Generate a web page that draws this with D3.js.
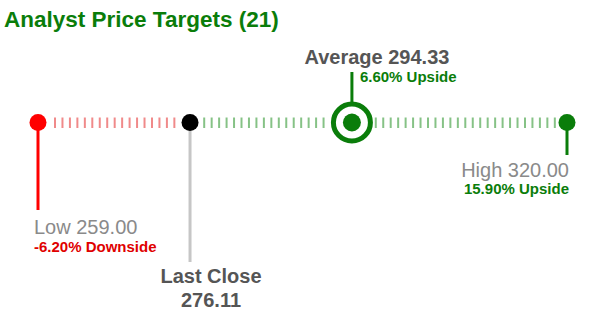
<!DOCTYPE html>
<html><head>
<meta charset="utf-8">
<script src="https://d3js.org/d3.v7.min.js"></script>
<style>
  body { margin: 0; background: #fff; }
  svg text { font-family: "Liberation Sans", Arial, sans-serif; }
</style>
</head>
<body>
<svg id="chart" width="589" height="317"></svg>
<script>

// values
const numTargets = 21;
const lowTarget = 259.00;
const lastClose = 276.11;
const avgTarget = 294.33;
const highTarget = 320.00;
const lowPct = "-6.20%";
const avgPct = "6.60%";
const highPct = "15.90%";

const green = "#0a7d0a";
const red = "#ff0000";
const darkGray = "#555555";
const lightGray = "#8a8a8a";

let svg = d3.select("svg#chart");
const width = +svg.attr("width");
const lineY = 122.5;

// scale from price to x; the high marker is pinned to the right edge
let x = d3.scaleLinear()
          .domain([lowTarget, highTarget])
          .range([38, 580]);

const lowX = x(lowTarget);
const closeX = x(lastClose);
const avgX = x(avgTarget);
const highX = Math.min(x(highTarget), width - 22);

// title
svg.append("text")
   .attr("x", 4)
   .attr("y", 27)
   .style("font-size", "22.5px")
   .style("font-weight", "bold")
   .style("fill", green)
   .text("Analyst Price Targets (" + numTargets + ")");

// dashed ticks along the line
let markers = [{x: lowX, r: 12}, {x: closeX, r: 12}, {x: avgX, r: 22}, {x: highX, r: 12}];
let tickXs = d3.range(55, highX, 7.46)
               .filter(t => markers.every(m => Math.abs(t - m.x) > m.r));

tickXs.forEach(t => {
  svg.append("line")
     .attr("x1", t)
     .attr("x2", t)
     .attr("y1", lineY - 5)
     .attr("y2", lineY + 5.5)
     .style("stroke", t < closeX ? "#f08a8a" : "#86c286")
     .style("stroke-width", 2);
});

// stems
svg.append("line")
   .attr("x1", lowX).attr("x2", lowX)
   .attr("y1", lineY).attr("y2", 210)
   .style("stroke", red).style("stroke-width", 3);

svg.append("line")
   .attr("x1", closeX).attr("x2", closeX)
   .attr("y1", lineY).attr("y2", 262)
   .style("stroke", "#c6c6c6").style("stroke-width", 3);

svg.append("line")
   .attr("x1", avgX).attr("x2", avgX)
   .attr("y1", 72).attr("y2", lineY - 20)
   .style("stroke", green).style("stroke-width", 3);

svg.append("line")
   .attr("x1", highX).attr("x2", highX)
   .attr("y1", lineY).attr("y2", 155)
   .style("stroke", green).style("stroke-width", 3);

// dots
svg.append("circle")
   .attr("cx", lowX).attr("cy", lineY).attr("r", 8.5)
   .style("fill", red);

svg.append("circle")
   .attr("cx", closeX).attr("cy", lineY).attr("r", 8.5)
   .style("fill", "#000");

svg.append("circle")
   .attr("cx", highX).attr("cy", lineY).attr("r", 8.5)
   .style("fill", green);

// average: ring plus inner dot
svg.append("circle")
   .attr("cx", avgX).attr("cy", lineY).attr("r", 18.5)
   .style("fill", "#fff")
   .style("stroke", green)
   .style("stroke-width", 5);

svg.append("circle")
   .attr("cx", avgX).attr("cy", lineY).attr("r", 9)
   .style("fill", green);

// labels
svg.append("text")
   .attr("x", avgX + 25).attr("y", 64)
   .attr("text-anchor", "middle")
   .style("font-size", "20px").style("font-weight", "bold")
   .style("fill", darkGray)
   .text("Average " + avgTarget.toFixed(2));

svg.append("text")
   .attr("x", avgX + 8).attr("y", 82)
   .style("font-size", "15px").style("font-weight", "bold")
   .style("fill", green)
   .text(avgPct + " Upside");

svg.append("text")
   .attr("x", highX + 2).attr("y", 177)
   .attr("text-anchor", "end")
   .style("font-size", "20px")
   .style("fill", lightGray)
   .text("High " + highTarget.toFixed(2));

svg.append("text")
   .attr("x", highX + 2).attr("y", 194)
   .attr("text-anchor", "end")
   .style("font-size", "15px").style("font-weight", "bold")
   .style("fill", green)
   .text(highPct + " Upside");

svg.append("text")
   .attr("x", lowX - 4).attr("y", 234)
   .style("font-size", "20px")
   .style("fill", lightGray)
   .text("Low " + lowTarget.toFixed(2));

svg.append("text")
   .attr("x", lowX - 4).attr("y", 252)
   .style("font-size", "15px").style("font-weight", "bold")
   .style("fill", "#e00000")
   .text(lowPct + " Downside");

svg.append("text")
   .attr("x", closeX + 21).attr("y", 283)
   .attr("text-anchor", "middle")
   .style("font-size", "20px").style("font-weight", "bold")
   .style("fill", darkGray)
   .text("Last Close");

svg.append("text")
   .attr("x", closeX + 21).attr("y", 307)
   .attr("text-anchor", "middle")
   .style("font-size", "20px").style("font-weight", "bold")
   .style("fill", darkGray)
   .text(lastClose.toFixed(2));

</script>
</body>
</html>
